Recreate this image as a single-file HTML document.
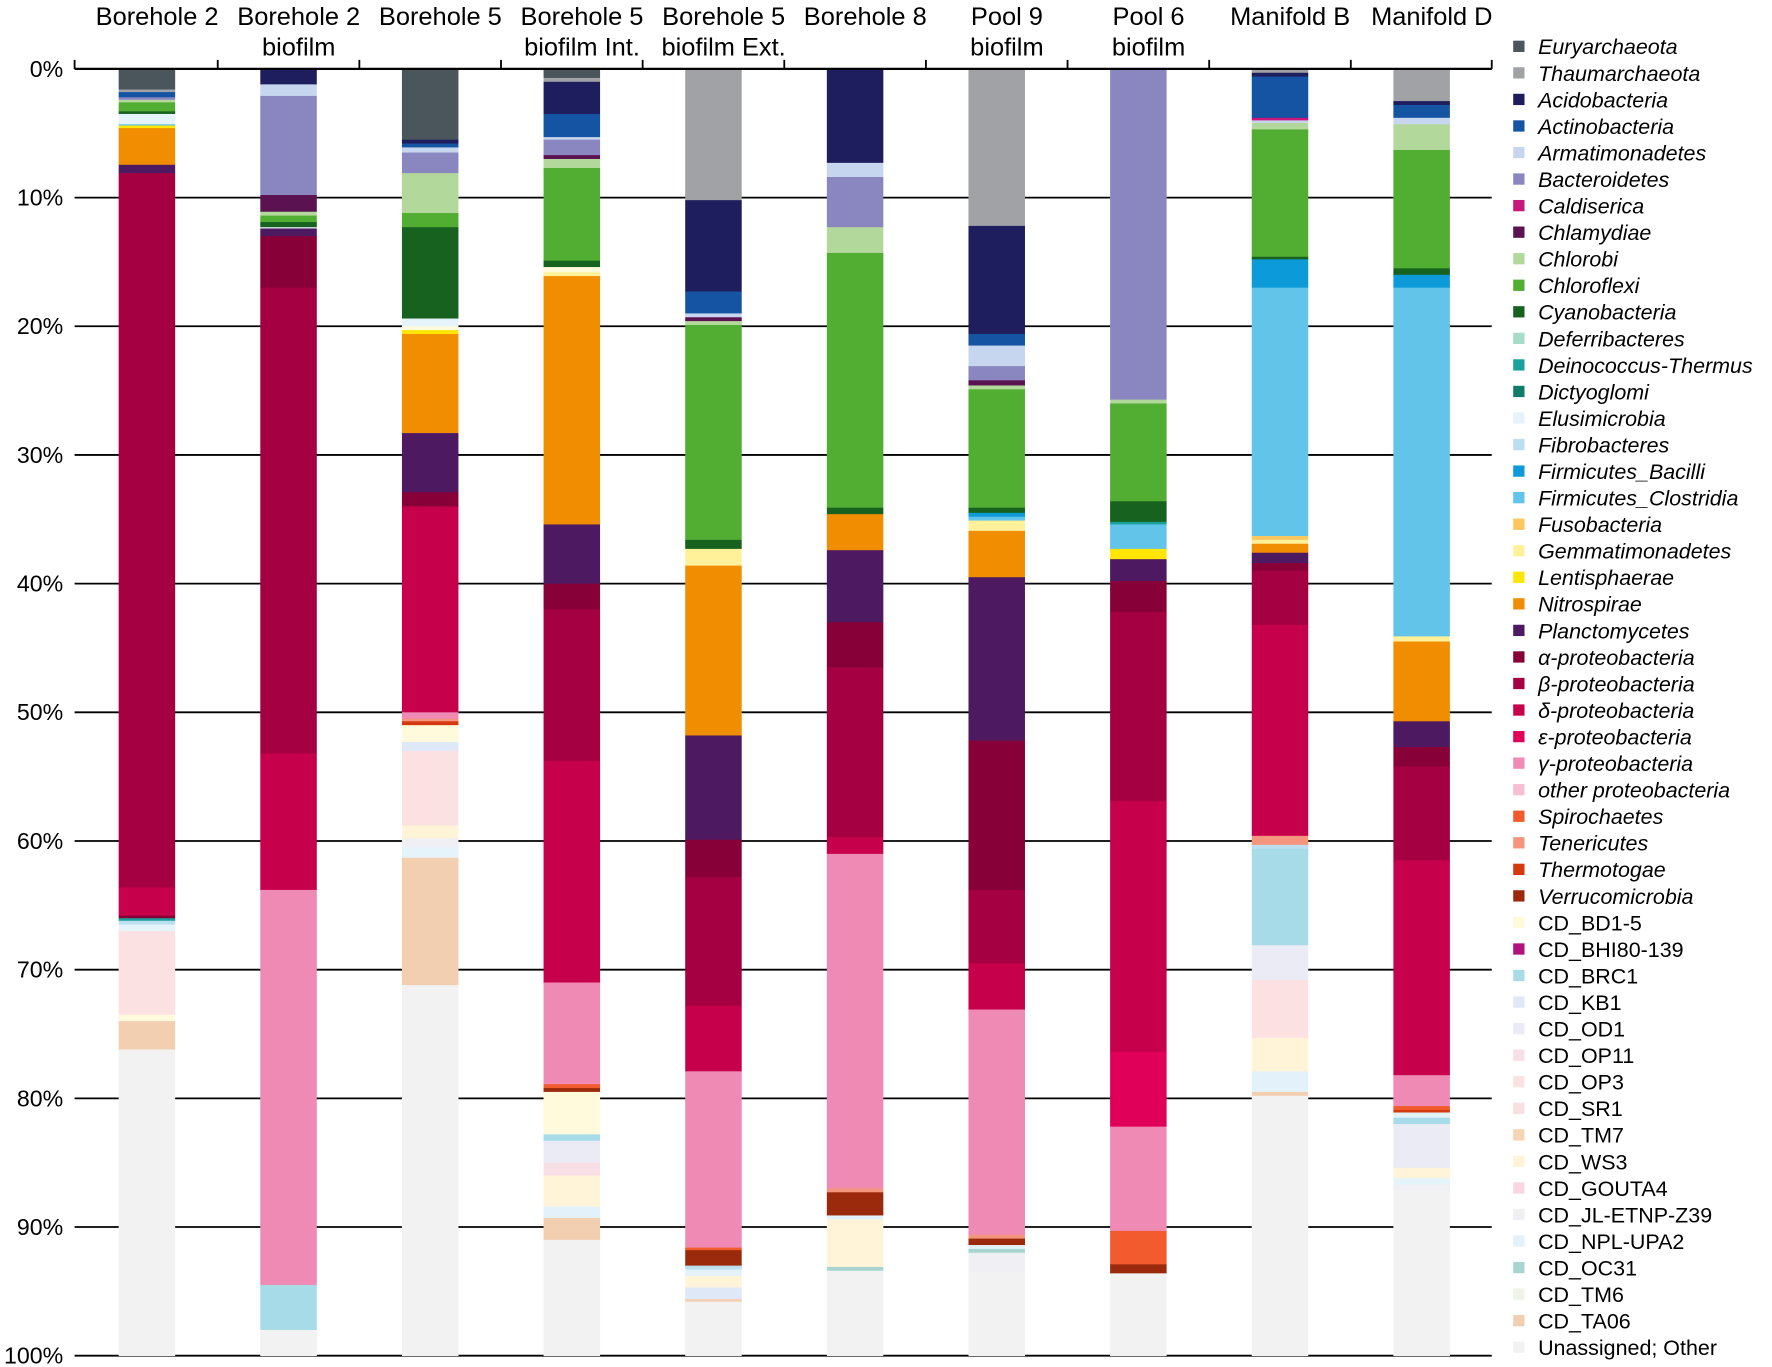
<!DOCTYPE html>
<html><head><meta charset="utf-8"><style>
html,body{margin:0;padding:0;background:#fff;}
svg{display:block;font-family:"Liberation Sans",sans-serif;}
</style></head><body>
<svg id="chart" width="1772" height="1367" viewBox="0 0 1568 1210" preserveAspectRatio="none" xmlns="http://www.w3.org/2000/svg">
<g id="grid"></g>
<g id="bars"></g>
<g id="axis"></g>
<g id="legend"></g>
</svg>
<script>
const taxa = ["Euryarchaeota","Thaumarchaeota","Acidobacteria","Actinobacteria","Armatimonadetes","Bacteroidetes","Caldiserica","Chlamydiae","Chlorobi","Chloroflexi","Cyanobacteria","Deferribacteres","Deinococcus-Thermus","Dictyoglomi","Elusimicrobia","Fibrobacteres","Firmicutes_Bacilli","Firmicutes_Clostridia","Fusobacteria","Gemmatimonadetes","Lentisphaerae","Nitrospirae","Planctomycetes","α-proteobacteria","β-proteobacteria","δ-proteobacteria","ε-proteobacteria","γ-proteobacteria","other proteobacteria","Spirochaetes","Tenericutes","Thermotogae","Verrucomicrobia","CD_BD1-5","CD_BHI80-139","CD_BRC1","CD_KB1","CD_OD1","CD_OP11","CD_OP3","CD_SR1","CD_TM7","CD_WS3","CD_GOUTA4","CD_JL-ETNP-Z39","CD_NPL-UPA2","CD_OC31","CD_TM6","CD_TA06","Unassigned; Other"];
const colors = ["#4a555c","#a0a2a5","#1e1e5e","#1553a3","#c6d6ee","#8a86c0","#c8177b","#5a1350","#b3d89c","#52ad33","#17621f","#a6dcc8","#1ba19b","#0f7b6b","#e5f4fb","#bcdff0","#0d9ad8","#62c4e9","#fcc75e","#fff199","#ffe600","#f18d00","#4d1a62","#870037","#a50042","#c7004c","#e0005a","#ef8ab4","#f6bfd3","#f25b2d","#f5957d","#d4380f","#9a2a0b","#fffadb","#b0117a","#a7dbe8","#dfe8f7","#ebebf6","#f8dfe5","#fbe1e1","#f9e0e0","#f7d4b4","#fff3d8","#f9d6e2","#efeff4","#e3f2fa","#a8d5cf","#eef5e8","#f3cfb2","#f2f2f2"];
const samples = [["Borehole 2"],["Borehole 2","biofilm"],["Borehole 5"],["Borehole 5","biofilm Int."],["Borehole 5","biofilm Ext."],["Borehole 8"],["Pool 9","biofilm"],["Pool 6","biofilm"],["Manifold B"],["Manifold D"]];
const yTicks = ["0%","10%","20%","30%","40%","50%","60%","70%","80%","90%","100%"];
const segTaxa = [
 [0,1,3,5,8,9,10,14,17,20,21,22,24,25,23,12,15,14,39,33,48,49],
 [2,4,5,7,8,9,10,14,22,23,24,25,27,35,49],
 [0,2,3,4,5,8,9,10,14,33,20,21,22,23,25,27,30,31,33,36,39,42,44,14,48,49],
 [0,1,2,3,4,5,7,8,9,10,33,19,21,22,23,24,25,27,29,32,33,35,37,38,42,45,48,49],
 [1,2,3,4,7,8,9,10,19,21,22,23,24,25,27,29,32,15,45,42,36,48,49],
 [2,4,5,8,9,10,21,22,23,24,25,27,30,32,45,42,46,49],
 [1,2,3,4,5,7,8,9,10,16,17,19,21,22,23,24,25,27,30,32,45,46,44,49],
 [5,8,9,10,12,17,20,22,23,24,25,26,27,29,32,49],
 [1,2,3,6,4,8,9,10,16,17,18,19,21,22,23,24,25,30,15,35,37,39,42,45,48,49],
 [1,2,3,4,8,9,10,16,17,19,21,22,23,24,25,27,29,31,45,35,37,42,14,44,49]
];
const segValues = [
 [1.6,0.2,0.4,0.2,0.2,0.7,0.2,0.8,0.1,0.2,2.85,0.65,55.5,2.2,0.2,0.2,0.3,0.5,6.5,0.5,2.2,23.8],
 [1.2,0.9,7.7,1.3,0.3,0.5,0.4,0.1,0.6,4.0,36.2,10.6,30.7,3.5,2.0],
 [5.5,0.3,0.3,0.4,1.6,3.1,1.1,7.1,0.6,0.3,0.3,7.7,4.6,1.1,16,0.5,0.2,0.3,1.3,0.7,5.8,1.0,0.7,0.8,9.9,28.8],
 [0.7,0.3,2.5,1.8,0.2,1.2,0.3,0.7,7.2,0.5,0.4,0.3,19.3,4.6,2,11.8,17.2,7.9,0.3,0.3,3.3,0.5,1.7,1.0,2.4,0.9,1.7,9],
 [10.2,7.1,1.7,0.3,0.3,0.3,16.7,0.7,1.3,13.2,8.1,2.9,10,5.1,13.7,0.2,1.2,0.3,0.5,0.9,0.9,0.2,4.2],
 [7.3,1.1,3.9,2,19.8,0.5,2.8,5.6,3.5,13.2,1.3,26,0.3,1.8,0.3,3.7,0.3,6.6],
 [12.2,8.4,0.9,1.6,1.1,0.4,0.3,9.2,0.4,0.3,0.3,0.8,3.6,12.7,11.6,5.7,3.6,17.5,0.3,0.5,0.3,0.3,1.5,6.5],
 [25.7,0.3,7.6,1.6,0.2,1.9,0.8,1.7,2.4,14.7,19.5,5.8,8.1,2.6,0.7,6.4],
 [0.3,0.3,3.2,0.2,0.2,0.5,9.9,0.2,2.2,19.3,0.3,0.3,0.7,0.8,0.6,4.2,16.4,0.7,0.3,7.5,2.7,4.5,2.6,1.6,0.3,20.2],
 [2.5,0.3,1.0,0.5,2.0,9.2,0.5,1.0,27.1,0.4,6.2,2.0,1.5,7.3,16.7,2.4,0.3,0.2,0.4,0.5,3.4,0.8,0.5,0.5,12.8]
];
const NS="http://www.w3.org/2000/svg";
const top0=61, pxPer=11.39, x0=66, x1=1320, barW=50;
function yPos(p){return top0+p*pxPer;}
function xCenter(i){return 130+i*125.33;}
function mk(tag,attrs,parent){const e=document.createElementNS(NS,tag);for(const k in attrs)e.setAttribute(k,attrs[k]);parent.appendChild(e);return e;}
const grid=document.getElementById('grid'),bars=document.getElementById('bars'),axis=document.getElementById('axis'),legend=document.getElementById('legend');
yTicks.forEach((t,i)=>{
  const y=yPos(i*10);
  const l=mk('line',{x1:x0,x2:x1,y1:y,y2:y,stroke:'#000','stroke-width':i===0?2:1.6},i===0?axis:grid);
  
  
  const tx=mk('text',{x:56,y:y+7,'text-anchor':'end','font-size':20.5},axis);
  tx.textContent=t;
  
  
});
for(let i=0;i<=10;i++){
  const x=i===0?x0:(i===10?x1:(xCenter(i-1)+xCenter(i))/2);
  const tk=mk('line',{x1:x,x2:x,y1:top0-8,y2:top0,stroke:'#000','stroke-width':1.6},axis);
  
  
}
samples.forEach((s,i)=>{
  const cx=xCenter(i);
  let cum=0;
  segTaxa[i].forEach((t,j)=>{
    const v=segValues[i][j];
    const r=mk('rect',{x:cx-barW/2,y:yPos(cum),width:barW,height:v*pxPer+0.3,fill:colors[t]},bars);
    
    
    cum+=v;
  });
  s.forEach((line,k)=>{
    const tx=mk('text',{x:cx+9,y:22+k*27,'text-anchor':'middle','font-size':22.5},axis);
    tx.textContent=line;
    
    
  });
});
taxa.forEach((t,i)=>{
  const y=41+i*23.5;
  const sq=mk('rect',{x:1339,y:y-5,width:10,height:10,fill:colors[i]},legend);
  
  
  const tx=mk('text',{x:1361,y:y+7,'font-size':19,'font-style':(i<33?'italic':'normal')},legend);
  tx.textContent=t;
  
  
});
</script>
</body></html>
